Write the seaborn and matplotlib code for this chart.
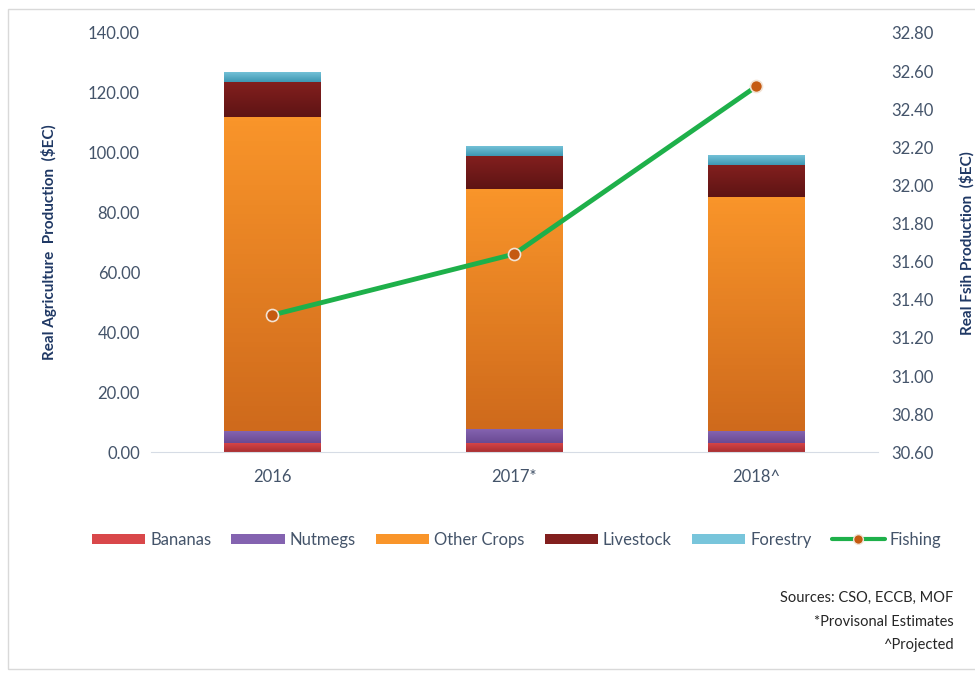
import numpy as np
import matplotlib
matplotlib.use('Agg')
import matplotlib.pyplot as plt
from matplotlib.patches import Patch, Rectangle
from matplotlib.lines import Line2D
from matplotlib.colors import LinearSegmentedColormap
import seaborn as sns
import pandas as pd

# data
years = ['2016', '2017*', '2018^']
bananas = [3.2, 3.2, 3.2]
nutmegs = [3.9, 4.5, 3.8]
other_crops = [105.0, 80.3, 78.2]
livestock = [11.4, 10.8, 10.6]
forestry = [3.5, 3.5, 3.5]
fishing = [31.32, 31.64, 32.52]

layers = ['Bananas', 'Nutmegs', 'Other Crops', 'Livestock', 'Forestry']
layer_vals = [bananas, nutmegs, other_crops, livestock, forestry]
# (top colour, bottom colour) for a soft vertical gradient
layer_cols = [('#D9474A', '#A92E31'), ('#8463B0', '#6A4A93'),
              ('#F9952A', '#CF6A1C'), ('#821F1E', '#5E1414'),
              ('#78C5DB', '#3E97B2')]

sns.set_style('white')
plt.rcParams['font.family'] = ['Lato', 'DejaVu Sans']
txt = '#44546A'
navy = '#1F3864'

fig = plt.figure(figsize=(9.75, 6.73), dpi=100)
ax = fig.add_axes([0.155, 0.328, 0.745, 0.623])

df = pd.DataFrame({'year': years})
bottom = np.zeros(len(years))
for name, vals, cols in zip(layers, layer_vals, layer_cols):
    df[name] = vals
    before = len(ax.patches)
    sns.barplot(data=df, x='year', y=name, color=cols[0], width=0.4,
                bottom=bottom, ax=ax, saturation=1, linewidth=0)
    cmap = LinearSegmentedColormap.from_list(name, [cols[1], cols[0]])
    for p in ax.patches[before:]:
        x0, y0 = p.get_x(), p.get_y()
        w, h = p.get_width(), p.get_height()
        grad = np.linspace(0, 1, 64).reshape(-1, 1)
        im = ax.imshow(grad, cmap=cmap, origin='lower', aspect='auto',
                       extent=[x0, x0 + w, y0, y0 + h], zorder=2)
        im.set_clip_path(p)
    bottom = bottom + np.array(vals)

ax.set_xlim(-0.5, 2.5)
ax.set_ylim(0, 140)
ax.set_yticks(np.arange(0, 141, 20))
ax.set_yticklabels(['%.2f' % v for v in np.arange(0, 141, 20)])
ax.set_xlabel('')
ax.set_ylabel('Real Agriculture  Production  ($EC)', color=navy,
              fontsize=11, fontweight='bold', labelpad=22)
ax.tick_params(axis='both', length=0, labelsize=12, colors=txt, pad=8)
ax.tick_params(axis='x', pad=12)
for s in ['top', 'left', 'right']:
    ax.spines[s].set_visible(False)
ax.spines['bottom'].set_color('#D6DCE5')

ax2 = ax.twinx()
fish_x = [0, 1, 2]
sns.lineplot(x=fish_x, y=fishing, ax=ax2, color='#1EB04A', linewidth=3.5,
             zorder=5)
ax2.scatter(fish_x, fishing, s=75, color='#C55A11', edgecolors='#F2E3D5',
            linewidths=1.2, zorder=6)
ax2.set_ylim(30.6, 32.8)
rt = np.round(np.arange(30.6, 32.81, 0.2), 2)
ax2.set_yticks(rt)
ax2.set_yticklabels(['%.2f' % v for v in rt])
ax2.set_ylabel('Real Fsih Production  ($EC)', color=navy, fontsize=11,
               fontweight='bold', labelpad=18)
ax2.tick_params(axis='y', length=0, labelsize=12, colors=txt, pad=10)
for s in ['top', 'left', 'right', 'bottom']:
    ax2.spines[s].set_visible(False)

handles = [Patch(facecolor=c[0], edgecolor='none') for c in layer_cols]
handles.append(Line2D([], [], color='#1EB04A', linewidth=3, marker='o',
                      markersize=7, markerfacecolor='#C55A11',
                      markeredgecolor='#F2E3D5'))
fig.legend(handles, layers + ['Fishing'], loc='center', ncol=6,
           bbox_to_anchor=(0.53, 0.198), frameon=False, fontsize=12,
           handlelength=3.2, handleheight=0.55, handletextpad=0.3,
           columnspacing=1.2, labelcolor=txt)

notes = ['Sources: CSO, ECCB, MOF', '*Provisonal Estimates', '^Projected']
for i, t in enumerate(notes):
    fig.text(0.978, 0.111 - i * 0.035, t, ha='right', va='center',
             fontsize=10.5, color='#262626')

fig.patches.append(Rectangle((0.008, 0.006), 1.2, 0.981,
                             transform=fig.transFigure, fill=False,
                             edgecolor='#D9D9D9', linewidth=1))

fig.savefig('out.png', dpi=100)
